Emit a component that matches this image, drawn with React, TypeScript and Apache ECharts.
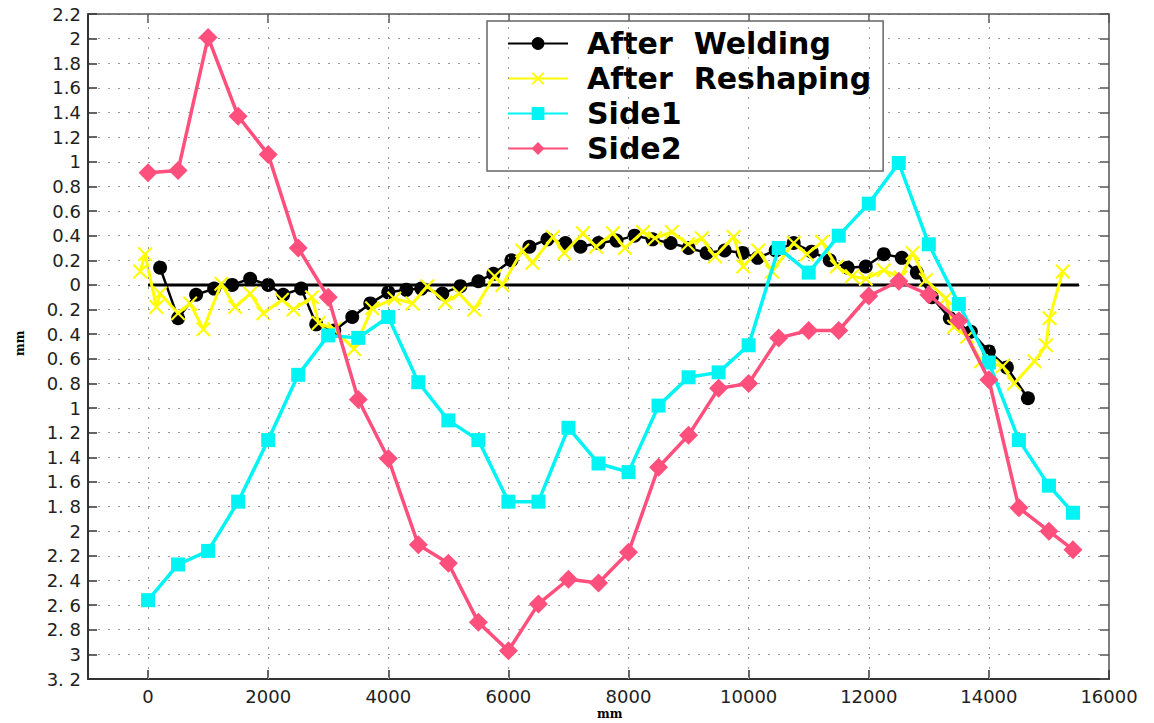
import React, { useEffect, useRef } from 'react';
import * as echarts from 'echarts';

// Station positions (mm) shared by the two side profiles
const sideX = [
  0, 500, 1000, 1500, 2000, 2500, 3000, 3500, 4000, 4500, 5000, 5500, 6000, 6500, 7000, 7500,
  8000, 8500, 9000, 9500, 10000, 10500, 11000, 11500, 12000, 12500, 13000, 13500, 14000, 14500,
  15000, 15400,
];
const side1 = [
  -2.56, -2.27, -2.16, -1.76, -1.26, -0.73, -0.41, -0.43, -0.26, -0.79, -1.1, -1.26, -1.76, -1.76,
  -1.16, -1.45, -1.52, -0.98, -0.75, -0.71, -0.49, 0.3, 0.1, 0.4, 0.66, 0.99, 0.33, -0.155, -0.63,
  -1.26, -1.63, -1.85,
];
const side2 = [
  0.91, 0.93, 2.01, 1.37, 1.06, 0.3, -0.1, -0.93, -1.41, -2.11, -2.26, -2.74, -2.97, -2.59, -2.39,
  -2.42, -2.17, -1.48, -1.22, -0.84, -0.8, -0.43, -0.37, -0.37, -0.09, 0.03, -0.08, -0.29, -0.77,
  -1.81, -2.0, -2.15,
];

// After welding profile
const weldX = [
  200, 500, 800, 1100, 1400, 1700, 2000, 2250, 2550, 2800, 3100, 3400, 3700, 4000, 4300, 4550,
  4900, 5200, 5500, 5750, 6050, 6350, 6650, 6950, 7200, 7500, 7800, 8100, 8400, 8700, 9000, 9300,
  9600, 9900, 10150, 10450, 10750, 11050, 11350, 11650, 11950, 12250, 12550, 12800, 13050, 13350,
  13700, 14000, 14300, 14650,
];
const weldY = [
  0.14, -0.27, -0.08, -0.03, 0.0, 0.05, 0.0, -0.08, -0.03, -0.32, -0.37, -0.26, -0.15, -0.06,
  -0.04, -0.03, -0.07, -0.01, 0.03, 0.09, 0.2, 0.31, 0.37, 0.34, 0.31, 0.34, 0.36, 0.4, 0.37, 0.34,
  0.3, 0.26, 0.28, 0.26, 0.22, 0.28, 0.34, 0.27, 0.2, 0.14, 0.15, 0.25, 0.22, 0.1, -0.1, -0.27,
  -0.38, -0.54, -0.67, -0.92,
];

// After reshaping profile
const reshapeX = [
  -130, -50, 140, 200, 500, 700, 920, 1220, 1450, 1700, 1920, 2230, 2420, 2730, 2840, 3100, 3430,
  3730, 4100, 4400, 4650, 4950, 5180, 5430, 5770, 5900, 6230, 6400, 6740, 6930, 7240, 7460, 7740,
  7940, 8240, 8440, 8720, 8990, 9220, 9440, 9750, 9910, 10160, 10390, 10750, 10970, 11220, 11470,
  11720, 11950, 12250, 12530, 12730, 12950, 13280, 13420, 13640, 13870, 14230, 14420, 14760,
  14950, 15010, 15230,
];
const reshapeY = [
  0.11, 0.25, -0.18, -0.07, -0.23, -0.15, -0.36, 0.01, -0.18, -0.07, -0.23, -0.12, -0.2, -0.1,
  -0.31, -0.36, -0.52, -0.19, -0.11, -0.15, -0.01, -0.14, -0.07, -0.2, 0.07, 0.0, 0.28, 0.18, 0.39,
  0.26, 0.42, 0.31, 0.42, 0.3, 0.43, 0.38, 0.43, 0.33, 0.38, 0.23, 0.39, 0.15, 0.28, 0.11, 0.34,
  0.25, 0.35, 0.15, 0.07, 0.05, 0.12, 0.06, 0.26, 0.04, -0.11, -0.34, -0.42, -0.62, -0.66, -0.8,
  -0.62, -0.49, -0.27, 0.11,
];

// Reference (zero) line and axis tick positions
const zeroX = [0, 15500];
const zeroY = [0, 0];
const xTicks = [0, 2000, 4000, 6000, 8000, 10000, 12000, 14000, 16000];
const xGrid = [0, 2000, 4000, 6000, 8000, 10000, 12000, 14000];

const seriesNames = ['After  Welding', 'After  Reshaping', 'Side1', 'Side2'];

const zip = (xs: number[], ys: number[]) => xs.map((x, i) => [x, ys[i]]);

// Thick "x" cross marker
const crossSymbol = 'path://M0,1 L1,0 L10,9 L9,10 Z M9,0 L10,1 L1,10 L0,9 Z';

const yLabel = (v: number) => {
  const r = Math.round(v * 10) / 10;
  const a = Math.abs(r);
  const s = Number.isInteger(a) ? String(a) : a.toFixed(1);
  return r < 0 ? s.replace('.', '. ') : s;
};
const xLabel = (v: number) => String(Math.round(v));

const dotted = { type: [2, 8] as number[], color: '#9a9a9a', width: 1 };
const labelFont = { fontFamily: 'DejaVu Sans', fontSize: 18, color: '#222' };

export default function App() {
  const ref = useRef<HTMLDivElement>(null);

  useEffect(() => {
    if (!ref.current) return;
    const chart = echarts.init(ref.current, undefined, { renderer: 'svg' });
    chart.setOption({
      animation: false,
      backgroundColor: '#ffffff',
      grid: { left: 88, right: 45, top: 14, bottom: 44 },
      legend: {
        orient: 'vertical',
        left: 487,
        top: 21,
        data: seriesNames,
        backgroundColor: '#ffffff',
        borderColor: '#666',
        borderWidth: 1.5,
        borderRadius: 0,
        padding: [6, 12, 6, 20],
        itemWidth: 60,
        itemHeight: 16,
        itemGap: 2,
        textStyle: {
          fontFamily: 'DejaVu Sans',
          fontWeight: 'bold',
          fontSize: 30,
          color: '#000',
          lineHeight: 33,
          padding: [0, 0, 0, 14],
        },
      },
      xAxis: [
        {
          type: 'value',
          min: -1000,
          max: 16000,
          position: 'bottom',
          axisLine: { show: true, onZero: false, lineStyle: { color: '#333', width: 2 } },
          axisTick: { show: true, inside: true, length: 9, customValues: xTicks, lineStyle: { color: '#333', width: 1.5 } },
          axisLabel: { ...labelFont, customValues: xTicks, margin: 8, formatter: xLabel },
          splitLine: { show: false },
        },
        {
          type: 'value',
          min: -1000,
          max: 16000,
          position: 'top',
          axisLine: { show: true, onZero: false, lineStyle: { color: '#555', width: 1.5 } },
          axisTick: { show: true, inside: true, length: 9, customValues: xTicks, lineStyle: { color: '#555', width: 1.5 } },
          axisLabel: { show: false },
          splitLine: { show: false },
        },
      ],
      yAxis: [
        {
          type: 'value',
          min: -3.2,
          max: 2.2,
          interval: 0.2,
          position: 'left',
          axisLine: { show: true, onZero: false, lineStyle: { color: '#333', width: 2 } },
          axisTick: { show: true, inside: true, length: 9, lineStyle: { color: '#333', width: 1.5 } },
          axisLabel: { ...labelFont, margin: 7, formatter: yLabel },
          splitLine: { show: true, lineStyle: dotted },
        },
        {
          type: 'value',
          min: -3.2,
          max: 2.2,
          interval: 0.2,
          position: 'right',
          axisLine: { show: true, onZero: false, lineStyle: { color: '#555', width: 1.5 } },
          axisTick: { show: true, inside: true, length: 9, lineStyle: { color: '#555', width: 1.5 } },
          axisLabel: { show: false },
          splitLine: { show: false },
        },
      ],
      series: [
        {
          name: 'zero',
          type: 'line',
          data: zip(zeroX, zeroY),
          showSymbol: false,
          symbol: 'none',
          lineStyle: { color: '#000', width: 3 },
          silent: true,
          markLine: {
            silent: true,
            symbol: ['none', 'none'],
            label: { show: false },
            lineStyle: dotted,
            data: xGrid.map((v) => ({ xAxis: v })),
          },
          z: 1,
        },
        {
          name: seriesNames[0],
          type: 'line',
          data: zip(weldX, weldY),
          symbol: 'circle',
          symbolSize: 14,
          color: '#000000',
          itemStyle: { color: '#000000' },
          lineStyle: { color: '#000000', width: 2.5 },
          z: 3,
        },
        {
          name: seriesNames[1],
          type: 'line',
          data: zip(reshapeX, reshapeY),
          symbol: crossSymbol,
          symbolSize: 15,
          color: '#ffff00',
          itemStyle: { color: '#ffff00' },
          lineStyle: { color: '#ffff00', width: 3 },
          z: 4,
        },
        {
          name: seriesNames[2],
          type: 'line',
          data: zip(sideX, side1),
          symbol: 'rect',
          symbolSize: 14,
          color: '#00f4f4',
          itemStyle: { color: '#00f4f4' },
          lineStyle: { color: '#00f4f4', width: 3.5 },
          z: 5,
        },
        {
          name: seriesNames[3],
          type: 'line',
          data: zip(sideX, side2),
          symbol: 'diamond',
          symbolSize: 19,
          color: '#ff4f7c',
          itemStyle: { color: '#ff4f7c' },
          lineStyle: { color: '#ff4f7c', width: 3.5 },
          z: 6,
        },
      ],
      graphic: [
        {
          type: 'text',
          left: 597,
          top: 708,
          style: { text: 'mm', font: 'bold 12px "DejaVu Serif"', fill: '#000' },
        },
        {
          type: 'text',
          x: 14,
          y: 356,
          rotation: Math.PI / 2,
          style: { text: 'mm', font: 'bold 12px "DejaVu Serif"', fill: '#000' },
        },
      ],
    });
    return () => chart.dispose();
  }, []);

  return (
    <div
      ref={ref}
      style={{ position: 'fixed', left: 0, top: 0, width: 1154, height: 723, background: '#fff' }}
    />
  );
}
